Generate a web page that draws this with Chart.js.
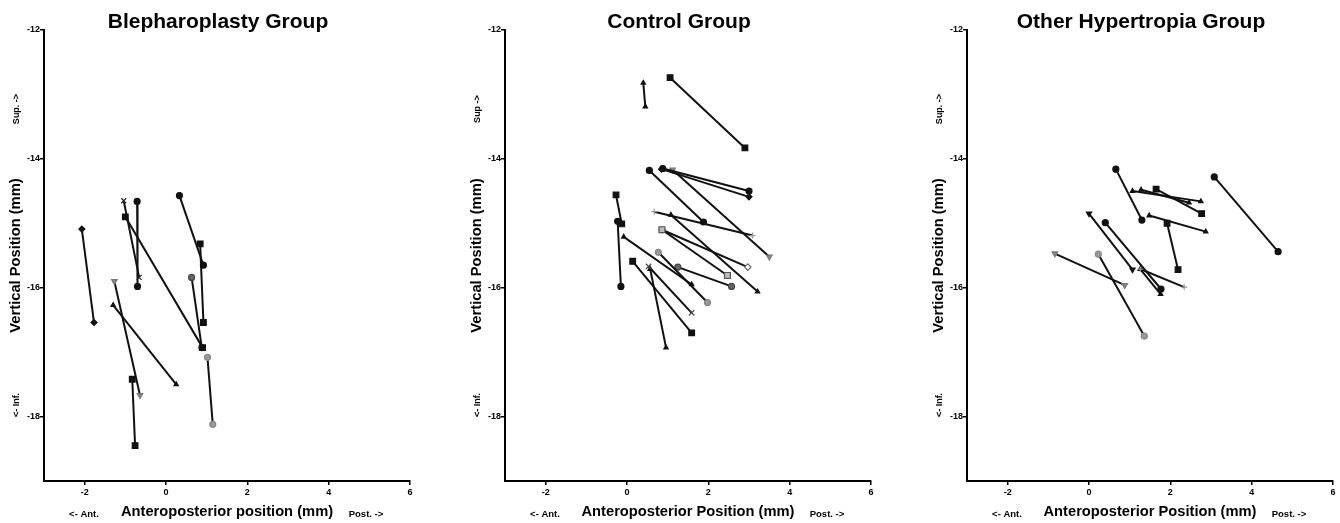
<!DOCTYPE html>
<html><head><meta charset="utf-8">
<script src="https://cdn.jsdelivr.net/npm/chart.js@4.4.0/dist/chart.umd.min.js"></script>
<style>
html,body{margin:0;padding:0;background:#fff;}
#wrap{position:relative;width:1340px;height:523px;overflow:hidden;background:#fff;}
.panel{position:absolute;top:0;width:455px;height:523px;}
</style></head><body>
<div id="wrap">
  <div class="panel" style="left:0px"><canvas id="c1" width="455" height="523"></canvas></div>
  <div class="panel" style="left:461px"><canvas id="c2" width="455" height="523"></canvas></div>
  <div class="panel" style="left:923px"><canvas id="c3" width="455" height="523"></canvas></div>
</div>
<script>
// ---------- DATA (start point -> end point of each eye) ----------
const xTicks = [-2, 0, 2, 4, 6];
const yTicks = [-12, -14, -16, -18];

// Blepharoplasty Group
const blephX0 = [-2.07, -1.04, -0.71, -1.00, 0.33, 0.84, 0.63, -1.27, -1.30, -0.83, 1.02];
const blephY0 = [-15.09, -14.65, -14.66, -14.90, -14.57, -15.32, -15.84, -15.90, -16.27, -17.42, -17.08];
const blephX1 = [-1.77, -0.66, -0.70, 0.90, 0.92, 0.92, 0.88, -0.64, 0.25, -0.76, 1.15];
const blephY1 = [-16.54, -15.84, -15.98, -16.93, -15.65, -16.54, -16.93, -17.67, -17.50, -18.45, -18.12];

// Control Group
const ctrlX0 = [0.45, 1.06, -0.27, -0.23, 0.55, 0.88, 0.85, 1.12, 0.67, 1.08, 0.86, 0.86, -0.08, 0.77, 1.25, 0.14, 0.53, 0.57];
const ctrlY0 = [-13.19, -12.74, -14.56, -14.97, -14.18, -14.15, -14.16, -14.17, -14.82, -14.87, -15.10, -15.10, -15.21, -15.45, -15.68, -15.59, -15.67, -15.71];
const ctrlX1 = [0.40, 2.90, -0.13, -0.15, 1.88, 3.00, 3.00, 3.50, 3.09, 3.21, 2.47, 2.97, 1.59, 1.98, 2.57, 1.59, 1.59, 0.96];
const ctrlY1 = [-12.82, -13.83, -15.01, -15.98, -14.98, -14.50, -14.59, -15.52, -15.19, -16.06, -15.81, -15.68, -15.95, -16.23, -15.98, -16.70, -16.39, -16.93];

// Other Hypertropia Group
const otherX0 = [0.66, 3.08, 1.07, 1.28, 1.65, 1.48, 1.92, 0.00, 0.40, -0.84, 0.23, 1.26, 1.26];
const otherY0 = [-14.16, -14.28, -14.50, -14.48, -14.47, -14.88, -15.00, -14.85, -14.99, -15.47, -15.48, -15.71, -15.71];
const otherX1 = [1.30, 4.65, 2.75, 2.46, 2.77, 2.87, 2.19, 1.07, 1.77, 0.88, 1.36, 2.34, 1.76];
const otherY1 = [-14.95, -15.44, -14.66, -14.68, -14.85, -15.13, -15.72, -15.72, -16.02, -15.96, -16.75, -15.99, -16.10];

// ---------- STYLES ----------
const FONT = '"Liberation Sans", Arial, Helvetica, sans-serif';
const M = {
  circ:  {s:'circle',   r:3,   rot:0,   bg:'#111', bd:'#111'},
  circG: {s:'circle',   r:3,   rot:0,   bg:'#999', bd:'#888'},
  circD: {s:'circle',   r:3,   rot:0,   bg:'#666', bd:'#444'},
  sq:    {s:'rect',     r:4,   rot:0,   bg:'#111', bd:'#111'},
  sqG:   {s:'rect',     r:4.2, rot:0,   bg:'#bbb', bd:'#555'},
  dia:   {s:'rectRot',  r:3,   rot:0,   bg:'#111', bd:'#111'},
  diaO:  {s:'rectRot',  r:3.2, rot:0,   bg:'#fff', bd:'#666'},
  xm:    {s:'crossRot', r:3.5, rot:0,   bg:'#111', bd:'#222'},
  xmG:   {s:'crossRot', r:3.8, rot:0,   bg:'#444', bd:'#444'},
  plG:   {s:'cross',    r:3,   rot:0,   bg:'#999', bd:'#999'},
  tri:   {s:'triangle', r:2.5, rot:0,   bg:'#111', bd:'#111'},
  triD:  {s:'triangle', r:3,   rot:180, bg:'#111', bd:'#111'},
  triDG: {s:'triangle', r:3.2, rot:180, bg:'#888', bd:'#777'}
};
const blephMarks = ['dia','xm','circ','sq','circ','sq','circD','triDG','tri','sq','circG'];
const ctrlMarks  = ['tri','sq','sq','circ','circ','circ','dia','triDG','plG','tri','sqG','diaO','tri','circG','circD','sq','xmG','tri'];
const otherMarks = ['circ','circ','tri','tri','sq','tri','sq','triD','circ','triDG','circG','plG','tri'];

function buildDatasets(x0, y0, x1, y1, marks) {
  return x0.map((_, i) => {
    const m = M[marks[i]];
    return {
      data: [{x: x0[i], y: y0[i]}, {x: x1[i], y: y1[i]}],
      borderColor: '#111',
      borderWidth: 2,
      pointStyle: m.s,
      pointRadius: m.r,
      pointRotation: m.rot,
      pointBackgroundColor: m.bg,
      pointBorderColor: m.bd,
      pointBorderWidth: 1.2,
      fill: false,
      tension: 0
    };
  });
}

const textPlugin = {
  id: 'panelText',
  afterDraw(chart, args, opts) {
    const ctx = chart.ctx;
    const a = chart.chartArea;
    ctx.save();
    ctx.fillStyle = '#000';
    ctx.textAlign = 'center';
    ctx.textBaseline = 'alphabetic';
    ctx.font = 'bold 21px ' + FONT;
    ctx.fillText(opts.title, 218, 27.5);
    ctx.font = 'bold 9.5px ' + FONT;
    ctx.textBaseline = 'middle';
    ctx.fillText('<- Ant.', a.left + 40, 514);
    ctx.fillText('Post. ->', a.right - 44, 514);
    ctx.font = 'bold 9px ' + FONT;
    ctx.save();
    ctx.translate(17, 109);
    ctx.rotate(-Math.PI / 2);
    ctx.fillText(opts.sup, 0, 0);
    ctx.restore();
    ctx.save();
    ctx.translate(17, 405);
    ctx.rotate(-Math.PI / 2);
    ctx.fillText('<- Inf.', 0, 0);
    ctx.restore();
    ctx.restore();
  }
};

function makeChart(id, title, sup, xTitle, datasets) {
  new Chart(document.getElementById(id), {
    type: 'line',
    data: { datasets },
    plugins: [textPlugin],
    options: {
      responsive: false,
      animation: false,
      devicePixelRatio: 1,
      layout: { padding: { top: 30, right: 45, bottom: 0, left: 0 } },
      plugins: {
        legend: { display: false },
        tooltip: { enabled: false },
        panelText: { title, sup }
      },
      scales: {
        x: {
          type: 'linear', min: -3, max: 6,
          afterBuildTicks: s => { s.ticks = xTicks.map(v => ({ value: v })); },
          afterFit: s => { s.height = 42; },
          border: { display: true, color: '#000', width: 2 },
          grid: { drawOnChartArea: false, drawTicks: true, tickLength: 4, color: '#000', lineWidth: 1.5 },
          ticks: { color: '#000', padding: 2, maxRotation: 0, autoSkip: false,
                   font: { family: FONT, size: 9, weight: 'bold' }, callback: v => String(v) },
          title: { display: true, text: xTitle, color: '#000',
                   font: { family: FONT, size: 14.7, weight: 'bold' }, padding: { top: 0, bottom: 2 } }
        },
        y: {
          type: 'linear', min: -19, max: -12,
          afterBuildTicks: s => { s.ticks = yTicks.map(v => ({ value: v })); },
          afterFit: s => { s.width = 44; },
          border: { display: true, color: '#000', width: 2 },
          grid: { drawOnChartArea: false, drawTicks: true, tickLength: 4, color: '#000', lineWidth: 1.5 },
          ticks: { color: '#000', padding: 0, autoSkip: false,
                   font: { family: FONT, size: 9, weight: 'bold' }, callback: v => String(v) },
          title: { display: true, text: 'Vertical Position (mm)', color: '#000',
                   font: { family: FONT, size: 14.7, weight: 'bold' }, padding: { top: 7, bottom: 0 } }
        }
      }
    }
  });
}

makeChart('c1', 'Blepharoplasty Group', 'Sup. ->', 'Anteroposterior position (mm)',
  buildDatasets(blephX0, blephY0, blephX1, blephY1, blephMarks));
makeChart('c2', 'Control Group', 'Sup ->', 'Anteroposterior Position (mm)',
  buildDatasets(ctrlX0, ctrlY0, ctrlX1, ctrlY1, ctrlMarks));
makeChart('c3', 'Other Hypertropia Group', 'Sup. ->', 'Anteroposterior Position (mm)',
  buildDatasets(otherX0, otherY0, otherX1, otherY1, otherMarks));
</script>
</body></html>
